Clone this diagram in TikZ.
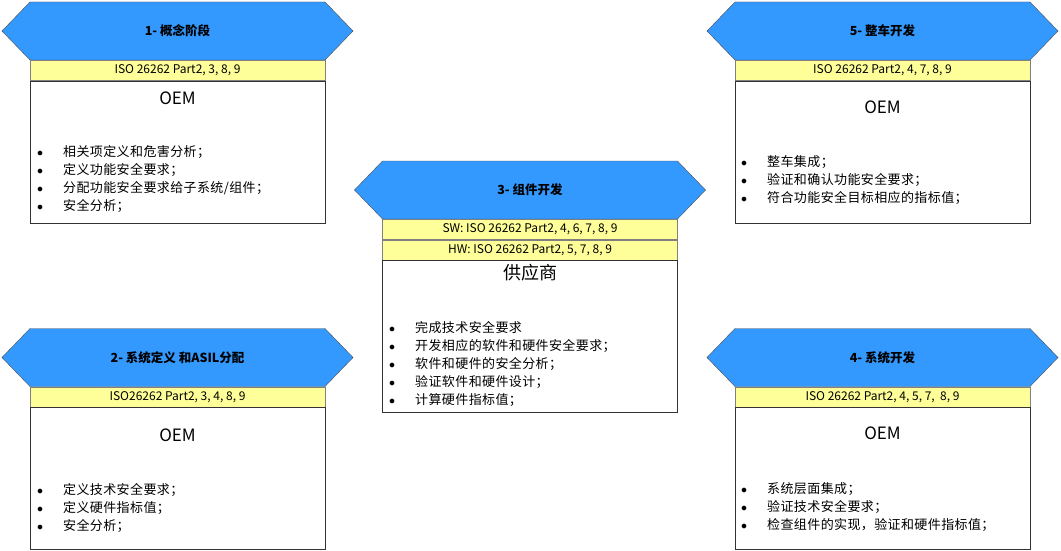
\documentclass[tikz,border=0pt]{standalone}
\usepackage{fontspec}
\setmainfont{Noto Sans CJK SC}
\usetikzlibrary{positioning,shapes.symbols}
\definecolor{phaseBlue}{HTML}{3399FF}
\definecolor{phaseEdge}{HTML}{4D4D4D}
\definecolor{isoYellow}{HTML}{FFFF99}
\definecolor{isoEdge}{HTML}{808080}
\definecolor{cardEdge}{HTML}{333333}
\newcommand{\duty}[1]{\makebox[26pt][l]{$\bullet$}#1}

\begin{document}
\begin{tikzpicture}[x=1pt, y=-1pt, node distance=0pt,
    phase/.style={shape=signal, signal to=west and east, signal pointer angle=92, draw=phaseEdge, fill=phaseBlue, minimum width=351pt, minimum height=58pt, inner sep=0pt, font=\bfseries\fontsize{12.5}{14}\selectfont},
    isobar/.style={draw=isoEdge, fill=isoYellow, minimum width=295pt, minimum height=20pt, inner sep=0pt, font=\fontsize{12}{14}\selectfont},
    card/.style={draw=cardEdge, fill=white, minimum width=295pt, minimum height=142pt, inner sep=0pt},
    role/.style={inner sep=0pt, font=\fontsize{17}{19}\selectfont},
    duties/.style={align=left, anchor=west, inner sep=0pt, font=\fontsize{13}{18}\selectfont\addfontfeature{LetterSpace=3}}]
  \useasboundingbox (0,0) rectangle (1061,551);

  % 1 concept phase
  \node[phase] (concept) at (177.5,31) {1- 概念阶段};
  \node[isobar, below=of concept] (conceptiso) {ISO 26262 Part2, 3, 8, 9};
  \node[card, below=of conceptiso] (conceptcard) {};
  \node[role] (conceptrole) at (177.5,98) {OEM};
  \node[duties] (conceptlist) at (37,179) {\duty{相关项定义和危害分析；}\\ \duty{定义功能安全要求；}\\ \duty{分配功能安全要求给子系统/组件；}\\ \duty{安全分析；}};

  % 2 system definition
  \node[phase] (sysdef) at (177.5,357.5) {2- 系统定义 和ASIL分配};
  \node[isobar, below=of sysdef] (sysdefiso) {ISO26262 Part2, 3, 4, 8, 9};
  \node[card, below=of sysdefiso] (sysdefcard) {};
  \node[role] (sysdefrole) at (177.5,435) {OEM};
  \node[duties] (sysdeflist) at (37,508) {\duty{定义技术安全要求；}\\ \duty{定义硬件指标值；}\\ \duty{安全分析；}};

  % 3 component development
  \node[phase] (comp) at (530,190) {3- 组件开发};
  \node[isobar, below=of comp] (compsw) {SW: ISO 26262 Part2, 4, 6, 7, 8, 9};
  \node[isobar, below=of compsw] (comphw) {HW: ISO 26262 Part2, 5, 7, 8, 9};
  \node[card, minimum height=152pt, below=of comphw] (compcard) {};
  \node[role, font=\fontsize{18}{20}\selectfont] (comprole) at (530,273) {供应商};
  \node[duties] (complist) at (389,364) {\duty{完成技术安全要求}\\ \duty{开发相应的软件和硬件安全要求；}\\ \duty{软件和硬件的安全分析；}\\ \duty{验证软件和硬件设计；}\\ \duty{计算硬件指标值；}};

  % 4 system development
  \node[phase] (sysdev) at (882.5,357.5) {4- 系统开发};
  \node[isobar, below=of sysdev] (sysdeviso) {ISO 26262 Part2, 4, 5, 7,\ \ 8, 9};
  \node[card, below=of sysdeviso] (sysdevcard) {};
  \node[role] (sysdevrole) at (882.5,433) {OEM};
  \node[duties] (sysdevlist) at (741,507) {\duty{系统层面集成；}\\ \duty{验证技术安全要求；}\\ \duty{检查组件的实现，验证和硬件指标值；}};

  % 5 vehicle development
  \node[phase] (vehicle) at (882.5,31) {5- 整车开发};
  \node[isobar, below=of vehicle] (vehicleiso) {ISO 26262 Part2, 4, 7, 8, 9};
  \node[card, below=of vehicleiso] (vehiclecard) {};
  \node[role] (vehiclerole) at (882.5,107) {OEM};
  \node[duties] (vehiclelist) at (741,180) {\duty{整车集成；}\\ \duty{验证和确认功能安全要求；}\\ \duty{符合功能安全目标相应的指标值；}};
\end{tikzpicture}
\end{document}
